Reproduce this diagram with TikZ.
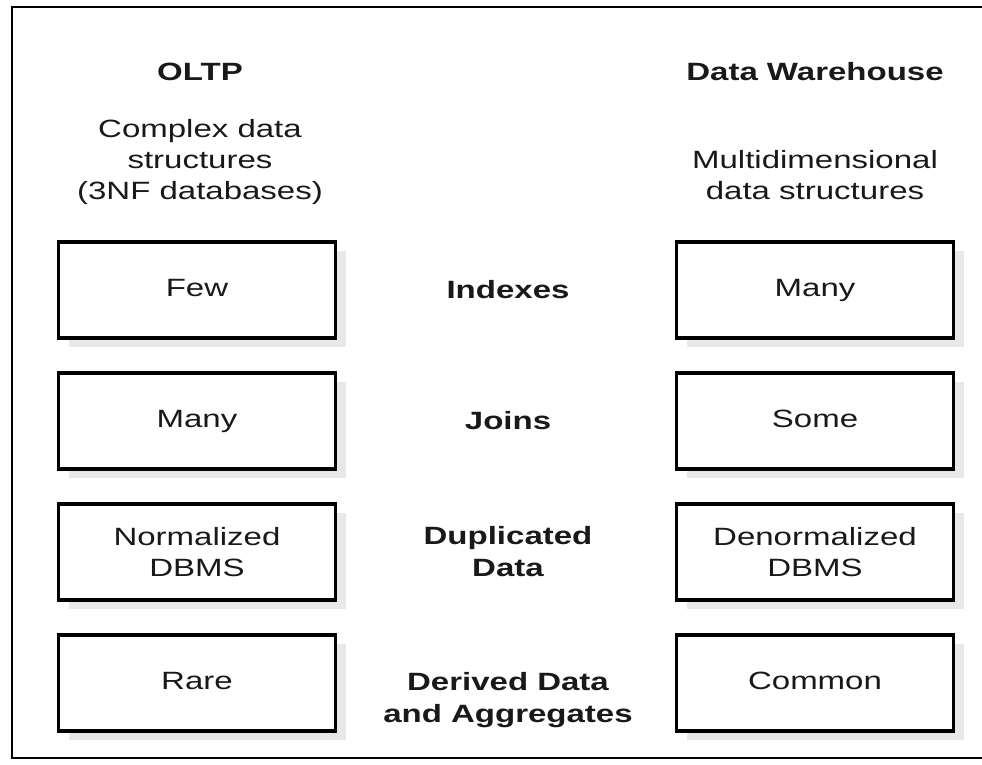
\documentclass[tikz,border=0pt]{standalone}
\usepackage{fontspec}
\setmainfont{Liberation Sans}[FakeStretch=1.32]
\usetikzlibrary{shadows}

\begin{document}
\begin{tikzpicture}[x=1pt, y=-1pt, node distance=131pt,
    every node/.style={font=\fontsize{25}{31}\selectfont, text=black!90},
    cell/.style={draw, line width=3.5pt, minimum width=277pt, minimum height=96pt,
      fill=white, align=center,
      drop shadow={shadow xshift=10pt, shadow yshift=-9pt, fill=black!9, opacity=1}},
    oneline/.style={text height=18pt, text depth=5pt},
    rowname/.style={font=\fontsize{25}{32}\selectfont\bfseries, align=center}]
  \useasboundingbox (0,0) rectangle (982,764);
  \draw [line width=2pt] (990,7) -- (12,7) -- (12,758) -- (990,758);

  \node [font=\fontsize{25}{31}\selectfont\bfseries] (oltp) at (200,72) {OLTP};
  \node [font=\fontsize{25}{31}\selectfont\bfseries] (dw) at (815,72) {Data Warehouse};
  \node [align=center] (oltpdesc) at (200,162) {Complex data\\structures\\(3NF databases)};
  \node [align=center] (dwdesc) at (815,175) {Multidimensional\\data structures};

  % left column
  \node [cell, oneline] (few) at (197,290) {Few};
  \node [cell, oneline] (manyj) [below of=few] {Many};
  \node [cell] (norm) [below of=manyj] {Normalized\\DBMS};
  \node [cell, oneline] (rare) [below of=norm] {Rare};

  % right column
  \node [cell, oneline] (manyi) [right of=few, node distance=618pt] {Many};
  \node [cell, oneline] (some) [below of=manyi] {Some};
  \node [cell] (denorm) [below of=some] {Denormalized\\DBMS};
  \node [cell, oneline] (common) [below of=denorm] {Common};

  % what is compared
  \node [rowname] (idx) at (508,290) {Indexes};
  \node [rowname] (joins) at (508,421) {Joins};
  \node [rowname] (dup) at (508,552) {Duplicated\\Data};
  \node [rowname] (agg) at (508,700) {Derived Data\\and Aggregates};
\end{tikzpicture}
\end{document}
